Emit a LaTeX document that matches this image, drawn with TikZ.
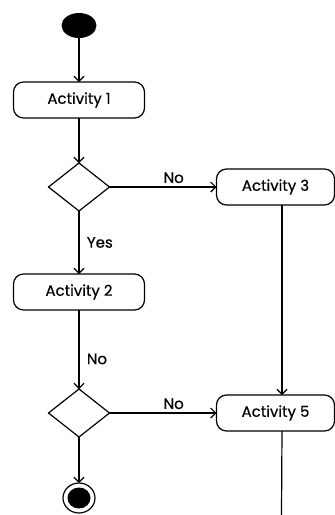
\documentclass[tikz,border=0pt]{standalone}
\usepackage{fontspec}
\setmainfont{Poppins}
\newfontfamily\actfont{Poppins}[FakeBold=0.5]
\usepackage{tikz}
\usetikzlibrary{shapes.geometric,arrows.meta,positioning}

\tikzset{
  flow/.style={line width=1.2pt, -{Straight Barb[length=5pt,width=10pt,line width=1.2pt]}},
  plain/.style={line width=1.2pt},
  actbox/.style={rectangle, draw, line width=1.2pt, outer sep=0pt, rounded corners=10pt, minimum height=36pt, inner sep=0pt, font=\actfont\fontsize{15}{17}\selectfont},
  decision/.style={diamond, draw, line width=1.2pt, outer sep=0pt, minimum width=61pt, minimum height=48pt, inner sep=0pt},
  guard/.style={font=\actfont\fontsize{15}{17}\selectfont}
}

\begin{document}
\begin{tikzpicture}[x=1pt, y=-1pt]
				\useasboundingbox (0,0) rectangle (335,515);
				\node[ellipse, fill=black, outer sep=0pt, minimum width=35pt, minimum height=25pt, inner sep=0pt] (start) at (79,25.5) {};
				\node[actbox, minimum width=131pt, below=44pt of start] (act1) {Activity 1};
				\node[decision, below=45pt of act1] (dec1) {};
				\node[actbox, minimum width=131pt, below=63pt of dec1] (act2) {Activity 2};
				\node[decision, below=79pt of act2] (dec2) {};
				\node[ellipse, draw, line width=1.2pt, outer sep=0pt, minimum width=32pt, minimum height=30pt, inner sep=0pt, below=46pt of dec2] (end) {};
				\node[ellipse, fill=black, minimum width=23pt, minimum height=21pt, inner sep=0pt] (endin) at (end) {};
				
				\node[actbox, minimum width=118pt, right=107pt of dec1] (act3) {Activity 3};
				\node[actbox, minimum width=118pt, right=107pt of dec2] (act5) {Activity 5};
				\coordinate (tail) at (281.5,515);
				
				\draw[flow] (start) -- (act1);
				\draw[flow] (act1) -- (dec1);
				\draw[flow] (dec1) -- node[guard, right=4pt] {Yes} (act2);
				\draw[flow] (act2) -- node[guard, right=4pt, pos=0.62] {No} (dec2);
				\draw[flow] (dec2) -- (end);
				\draw[flow] (dec1) -- node[guard, above, pos=0.6] {No} (act3);
				\draw[flow] (dec2) -- node[guard, above, pos=0.6] {No} (act5);
				\draw[flow] ([xshift=6.5pt]act3.south) -- ([xshift=6.5pt]act5.north);
				\draw[plain] ([xshift=6.5pt]act5.south) -- (tail);
			\end{tikzpicture}
\end{document}
